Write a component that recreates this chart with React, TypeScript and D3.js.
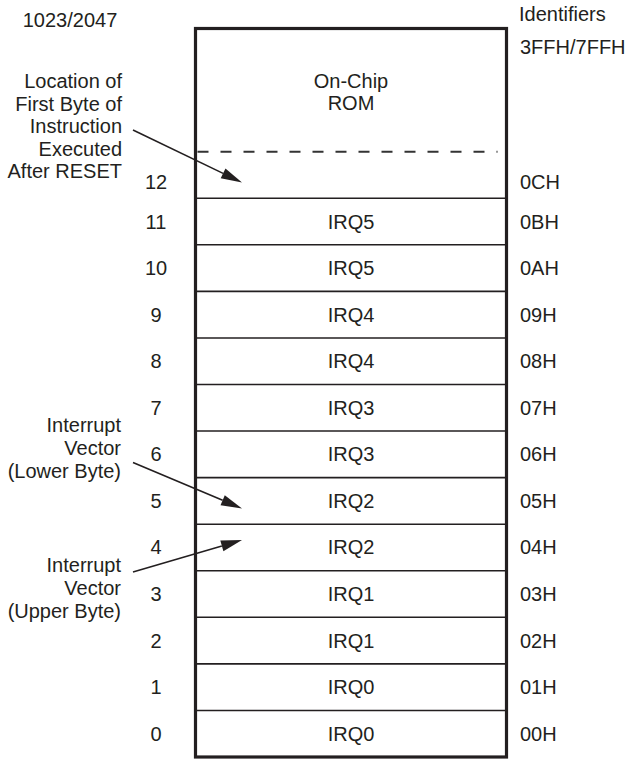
import React from "react";
import * as d3 from "d3";

const addresses = [0, 1, 2, 3, 4, 5, 6, 7, 8, 9, 10, 11, 12];
const cellLabels = ["IRQ0", "IRQ0", "IRQ1", "IRQ1", "IRQ2", "IRQ2", "IRQ3", "IRQ3", "IRQ4", "IRQ4", "IRQ5", "IRQ5", ""];
const hexIds = ["00H", "01H", "02H", "03H", "04H", "05H", "06H", "07H", "08H", "09H", "0AH", "0BH", "0CH"];
const romLabel = ["On-Chip", "ROM"];
const topAddress = "1023/2047";
const topHex = "3FFH/7FFH";
const headerLabel = "Identifiers";
const resetNote = ["Location of", "First Byte of", "Instruction", "Executed", "After RESET"];
const lowerNote = ["Interrupt", "Vector", "(Lower Byte)"];
const upperNote = ["Interrupt", "Vector", "(Upper Byte)"];
// arrow target address for each note
const resetTarget = 12;
const lowerTarget = 5;
const upperTarget = 4;

const W = 628;
const H = 761;
const FONT = "'Liberation Sans', Arial, Helvetica, sans-serif";
const INK = "#231f20";

function Arrow({ x1, y1, x2, y2 }: { x1: number; y1: number; x2: number; y2: number }) {
  const dx = x2 - x1;
  const dy = y2 - y1;
  const len = Math.hypot(dx, dy);
  const ux = dx / len;
  const uy = dy / len;
  const hl = 21;
  const hw = 5.5;
  const bx = x2 - ux * hl;
  const by = y2 - uy * hl;
  const pts = [
    [x2, y2],
    [bx - uy * hw, by + ux * hw],
    [bx + uy * hw, by - ux * hw],
  ];
  return (
    <g>
      <line x1={x1} y1={y1} x2={bx} y2={by} stroke={INK} strokeWidth={1.6} />
      <polygon points={pts.map((p) => p.join(",")).join(" ")} fill={INK} />
    </g>
  );
}

export default function App() {
  const left = 195.5;
  const right = 506.5;
  const top = 28.5;
  const y = d3.scaleLinear().domain([0, 13]).range([757, 151.7]);
  const cx = (left + right) / 2;
  const rowMid = (a: number) => (y(a) + y(a + 1)) / 2;
  const labelShift = (a: number) => (a === 12 ? 7 : 0);

  const lineH = 22.5;

  return (
    <svg
      width={W}
      height={H}
      style={{ position: "absolute", left: 0, top: 0, background: "#fff" }}
      fontFamily={FONT}
      fontSize={20}
      fill={INK}
    >
      <rect x={0} y={0} width={W} height={H} fill="#fff" />
      {/* row separators */}
      {addresses.slice(1).map((a) => (
        <line key={a} x1={left} x2={right} y1={y(a)} y2={y(a)} stroke={INK} strokeWidth={1.6} />
      ))}
      {/* dashed ROM boundary */}
      <line
        x1={left + 2}
        x2={right - 9}
        y1={y(13)}
        y2={y(13)}
        stroke="#333"
        strokeWidth={2}
        strokeDasharray="11,12"
      />
      {/* outer box */}
      <rect x={left} y={top} width={right - left} height={y(0) - top} fill="none" stroke={INK} strokeWidth={3.2} />

      {/* cell labels */}
      {addresses.map((a, i) => (
        <text key={"c" + a} x={cx} y={rowMid(a)} dy="0.35em" textAnchor="middle">
          {cellLabels[i]}
        </text>
      ))}
      {/* decimal addresses */}
      {addresses.map((a) => (
        <text key={"d" + a} x={156} y={rowMid(a) + labelShift(a)} dy="0.35em" textAnchor="middle">
          {a}
        </text>
      ))}
      {/* hex identifiers */}
      {addresses.map((a, i) => (
        <text key={"h" + a} x={520} y={rowMid(a) + labelShift(a)} dy="0.35em">
          {hexIds[i]}
        </text>
      ))}

      <text x={cx} y={87.5} textAnchor="middle">{romLabel[0]}</text>
      <text x={cx} y={109.5} textAnchor="middle">{romLabel[1]}</text>

      <text x={70} y={27} textAnchor="middle">{topAddress}</text>
      <text x={519} y={21}>{headerLabel}</text>
      <text x={520} y={54}>{topHex}</text>

      {resetNote.map((t, i) => (
        <text key={"r" + i} x={122} y={88 + i * lineH} textAnchor="end">{t}</text>
      ))}
      {lowerNote.map((t, i) => (
        <text key={"l" + i} x={121} y={432 + i * 23} textAnchor="end">{t}</text>
      ))}
      {upperNote.map((t, i) => (
        <text key={"u" + i} x={121} y={572 + i * 23} textAnchor="end">{t}</text>
      ))}

      <Arrow x1={133} y1={130} x2={242} y2={rowMid(resetTarget) + 7.5} />
      <Arrow x1={133} y1={462.5} x2={242} y2={rowMid(lowerTarget) + 7.5} />
      <Arrow x1={133} y1={572} x2={242} y2={rowMid(upperTarget) - 7.5} />
    </svg>
  );
}
